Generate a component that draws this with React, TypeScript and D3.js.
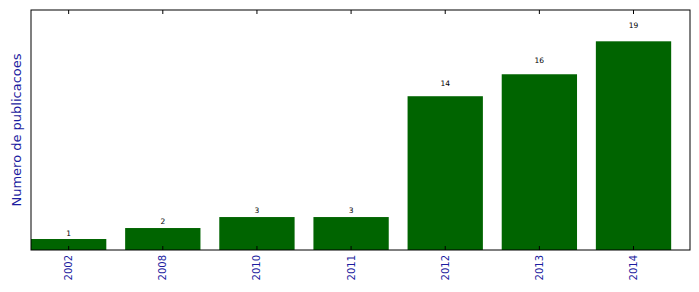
import React from "react";
import * as d3 from "d3";

const years = ["2002", "2008", "2010", "2011", "2012", "2013", "2014"];
const counts = [1, 2, 3, 3, 14, 16, 19];
const yLabel = "Numero de publicacoes";

const W = 699;
const H = 292;
const left = 31;
const right = 690;
const top = 10;
const bottom = 250;
const barWidth = 0.8;
const blue = "#1c1ca0";

export default function App() {
  const x = d3.scaleLinear().domain([-0.4, years.length - 0.4]).range([left, right]);
  const yMax = d3.max(counts)! * 1.15;
  const y = d3.scaleLinear().domain([0, yMax]).range([bottom, top]);
  const font = "DejaVu Sans, sans-serif";

  return (
    <svg
      width={W}
      height={H}
      style={{ position: "absolute", left: 0, top: 0, background: "#fff" }}
      fontFamily={font}
    >
      <rect x={0} y={0} width={W} height={H} fill="#fff" />
      {counts.map((c, i) => (
        <g key={years[i]}>
          <rect
            x={x(i - barWidth / 2)}
            y={y(c)}
            width={x(barWidth) - x(0)}
            height={y(0) - y(c)}
            fill="#006400"
          />
          <text
            x={x(i)}
            y={y(c * 1.05) - 2.5}
            fontSize={7.5}
            textAnchor="middle"
            fill="#000"
          >
            {c}
          </text>
        </g>
      ))}
      {years.map((yr, i) => (
        <g key={"t" + yr}>
          <line x1={x(i)} x2={x(i)} y1={bottom} y2={bottom - 4} stroke="#000" strokeWidth={1} />
          <line x1={x(i)} x2={x(i)} y1={top} y2={top + 4} stroke="#000" strokeWidth={1} />
          <text
            transform={`translate(${x(i) + 3.5},${bottom + 5}) rotate(-90)`}
            textAnchor="end"
            fontSize={10}
            fill={blue}
          >
            {yr}
          </text>
        </g>
      ))}
      <rect
        x={left}
        y={top}
        width={right - left}
        height={bottom - top}
        fill="none"
        stroke="#000"
        strokeWidth={1}
      />
      <text
        transform={`translate(21,${(top + bottom) / 2}) rotate(-90)`}
        textAnchor="middle"
        fontSize={13}
        fill={blue}
      >
        {yLabel}
      </text>
    </svg>
  );
}
